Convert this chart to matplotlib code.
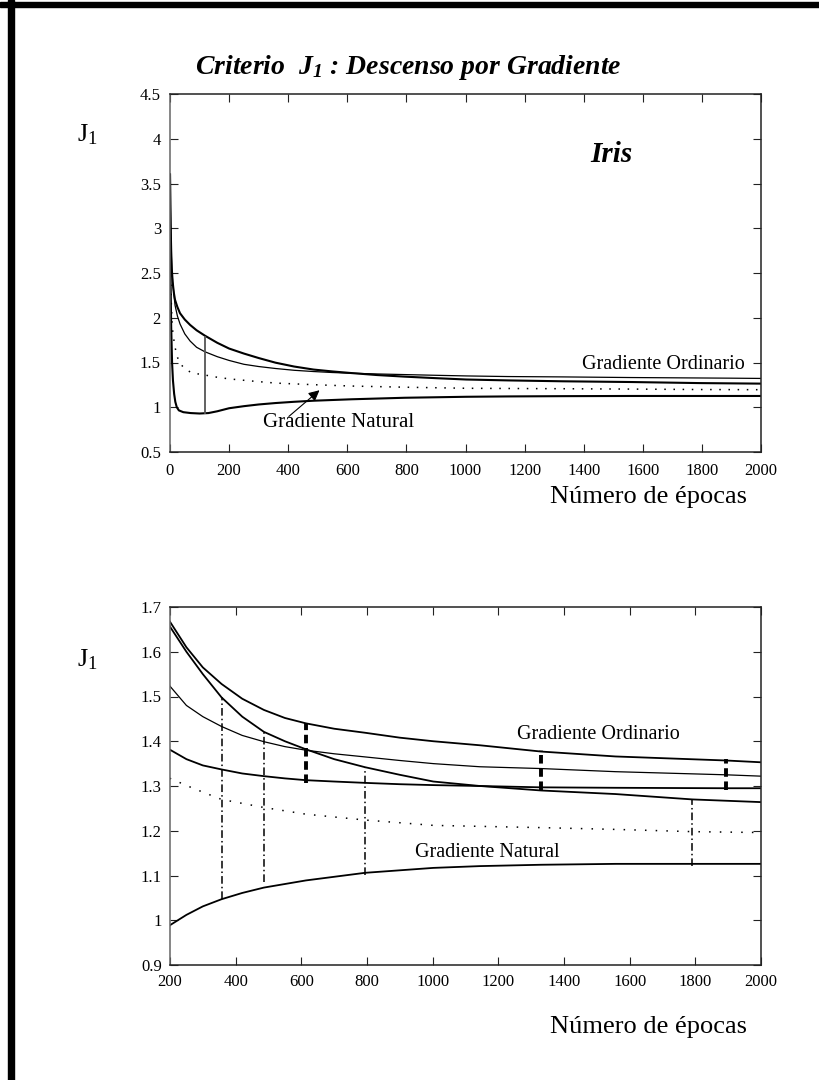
import matplotlib.pyplot as plt
from matplotlib.patches import Rectangle

plt.rcParams["font.family"] = ["Liberation Serif", "DejaVu Serif"]
plt.rcParams["mathtext.fontset"] = "custom"
plt.rcParams["mathtext.rm"] = "Liberation Serif"
plt.rcParams["mathtext.it"] = "Liberation Serif:italic"
plt.rcParams["mathtext.bf"] = "Liberation Serif:italic:bold"

# J1 vs epoch
ord_x = [0, 1, 2, 4, 6, 9, 13, 17, 25, 34, 50, 68, 90, 118, 160, 200, 250, 300, 357, 420, 486,
         550, 614, 700, 794, 900, 1002, 1144, 1330, 1557, 1791, 2000]
ord_y = [3.6, 3.3, 3.05, 2.75, 2.55, 2.4, 2.28, 2.2, 2.12, 2.05, 1.98, 1.92, 1.86, 1.80, 1.72, 1.656,
         1.60, 1.55, 1.498, 1.455, 1.421, 1.40, 1.382, 1.36, 1.342, 1.325, 1.31, 1.30, 1.29, 1.282,
         1.27, 1.264]

thin_x = [0, 1, 2, 4, 6, 9, 13, 17, 25, 34, 50, 68, 90, 118, 160, 200, 250, 300, 357, 420, 486,
          550, 614, 700, 794, 900, 1002, 1144, 1330, 1557, 1894, 2000]
thin_y = [3.6, 3.3, 3.05, 2.75, 2.55, 2.4, 2.27, 2.14, 2.02, 1.93, 1.82, 1.74, 1.67, 1.62, 1.565,
          1.523, 1.48, 1.455, 1.433, 1.413, 1.399, 1.388, 1.38, 1.372, 1.365, 1.357, 1.35, 1.343,
          1.339, 1.332, 1.325, 1.322]

upper_x = [200, 250, 300, 357, 420, 486, 550, 614, 700, 794, 900, 1002, 1144, 1330, 1557, 1894, 2000]
upper_y = [1.667, 1.61, 1.565, 1.528, 1.495, 1.47, 1.452, 1.44, 1.428, 1.419, 1.408, 1.40, 1.391,
           1.377, 1.366, 1.357, 1.353]

flat_x = [200, 250, 300, 357, 420, 486, 550, 614, 700, 794, 900, 1002, 1144, 1330, 1557, 1894, 2000]
flat_y = [1.381, 1.36, 1.346, 1.337, 1.328, 1.322, 1.317, 1.313, 1.31, 1.307, 1.304, 1.302, 1.300,
          1.297, 1.296, 1.295, 1.295]

dot_x = [0, 1, 2, 4, 7, 10, 17, 25, 34, 50, 68, 90, 118, 160, 200, 270, 357, 486, 614, 794, 1002,
         1330, 1557, 1791, 2000]
dot_y = [3.6, 3.0, 2.6, 2.2, 1.95, 1.82, 1.67, 1.56, 1.49, 1.43, 1.395, 1.375, 1.36, 1.335, 1.317,
         1.295, 1.270, 1.252, 1.237, 1.224, 1.212, 1.207, 1.203, 1.198, 1.196]

nat_x = [0, 1, 2, 4, 7, 10, 14, 18, 23, 30, 45, 70, 100, 130, 160, 200, 250, 300, 357, 420, 486,
         614, 794, 1002, 1144, 1330, 1557, 2000]
nat_y = [3.6, 2.9, 2.4, 1.9, 1.5, 1.3, 1.15, 1.06, 1.00, 0.965, 0.945, 0.935, 0.93, 0.935, 0.955,
         0.989, 1.012, 1.031, 1.047, 1.061, 1.073, 1.089, 1.106, 1.117, 1.121, 1.124, 1.126, 1.126]

# vertical markers
gap_x, gap_top, gap_bot = 118, 1.80, 0.93
dd_x = [357, 486, 794, 1791]
dd_top = [1.498, 1.421, 1.342, 1.270]
dd_bot = [1.047, 1.086, 1.101, 1.121]
dash_x = [614, 1330, 1894]
dash_top = [1.44, 1.38, 1.36]
dash_bot = [1.307, 1.29, 1.29]

top_xticks = [0, 200, 400, 600, 800, 1000, 1200, 1400, 1600, 1800, 2000]
top_yticks = [0.5, 1, 1.5, 2, 2.5, 3, 3.5, 4, 4.5]
bot_xticks = [200, 400, 600, 800, 1000, 1200, 1400, 1600, 1800, 2000]
bot_yticks = [0.9, 1, 1.1, 1.2, 1.3, 1.4, 1.5, 1.6, 1.7]


def frame(ax, xticks, yticks, xpad, ypad):
    ax.set_xticks(xticks)
    ax.set_yticks(yticks)
    ax.set_yticklabels([f"{v:g}" for v in yticks])
    ax.set_xlim(xticks[0], xticks[-1])
    ax.set_ylim(yticks[0], yticks[-1])
    ax.tick_params(direction="in", top=True, right=True, length=6, width=0.8,
                   labelsize=12, color="#222")
    ax.tick_params(axis="x", pad=xpad)
    ax.tick_params(axis="y", pad=ypad)
    for side in ax.spines:
        ax.spines[side].set_linewidth(1.1)
        ax.spines[side].set_color("#222")
    ax.spines["left"].set_color("#666")


fig = plt.figure(figsize=(8.19, 10.8), dpi=100)

# page border
fig.add_artist(Rectangle((8 / 819, 0), 6 / 819, 1, transform=fig.transFigure, color="k"))
fig.add_artist(Rectangle((0, 1 - 7 / 1080), 1, 5 / 1080, transform=fig.transFigure, color="k"))

fig.text(0.498, 1 - 68 / 1080, r"Criterio  $\mathbf{J}_{\mathbf{1}}$ : Descenso por Gradiente",
         ha="center", va="center", fontsize=20, fontweight="bold", style="italic")

# top chart
ax1 = fig.add_axes([170 / 819, 1 - 452 / 1080, 591 / 819, 358 / 1080])
ax1.plot(ord_x, ord_y, color="k", lw=1.5)
ax1.plot(thin_x, thin_y, color="k", lw=0.9)
ax1.plot(dot_x, dot_y, color="k", lw=1.1, linestyle=(0, (1, 5)))
ax1.plot(nat_x, nat_y, color="k", lw=1.5)
ax1.vlines(gap_x, gap_bot, gap_top, color="#555", lw=1.3)
ax1.annotate("", xy=(513, 1.21), xytext=(395, 0.877),
             arrowprops=dict(arrowstyle="-|>", color="k", lw=0.8, mutation_scale=16))
ax1.text(315, 0.83, "Gradiente Natural", fontsize=15, va="center")
ax1.text(1945, 1.48, "Gradiente Ordinario", fontsize=14.5, va="center", ha="right")
ax1.text(1421, 3.74, "Iris", fontsize=21, fontweight="bold", style="italic", va="baseline")
frame(ax1, top_xticks, top_yticks, 8, 6.5)

fig.text(87 / 819, 1 - 135 / 1080, r"$\mathrm{J}_1$", fontsize=19, ha="center", va="center")
fig.text(0.792, 0.540, "Número de épocas", fontsize=19, ha="center", va="center")

# bottom chart (zoom)
ax2 = fig.add_axes([170 / 819, 1 - 965 / 1080, 591 / 819, 358 / 1080])
ax2.plot(upper_x, upper_y, color="k", lw=1.3)
ax2.plot(ord_x, ord_y, color="k", lw=1.3)
ax2.plot(thin_x, thin_y, color="k", lw=0.9)
ax2.plot(flat_x, flat_y, color="k", lw=1.3)
ax2.plot(dot_x, dot_y, color="k", lw=1.1, linestyle=(0, (1, 6)))
ax2.plot(nat_x, nat_y, color="k", lw=1.3)
ax2.vlines(dd_x, dd_bot, dd_top, color="k", lw=1.1, linestyle=(0, (5, 2, 1, 2)))
ax2.vlines(dash_x, dash_bot, dash_top, color="k", lw=2.8, linestyle=(0, (2.2, 1.2)))
ax2.text(1257, 1.416, "Gradiente Ordinario", fontsize=14.5, va="center")
ax2.text(946, 1.151, "Gradiente Natural", fontsize=14.5, va="center")
frame(ax2, bot_xticks, bot_yticks, 6.5, 6)

fig.text(87 / 819, 1 - 660 / 1080, r"$\mathrm{J}_1$", fontsize=19, ha="center", va="center")
fig.text(0.792, 0.049, "Número de épocas", fontsize=19, ha="center", va="center")

plt.savefig("out.png", dpi=100)
